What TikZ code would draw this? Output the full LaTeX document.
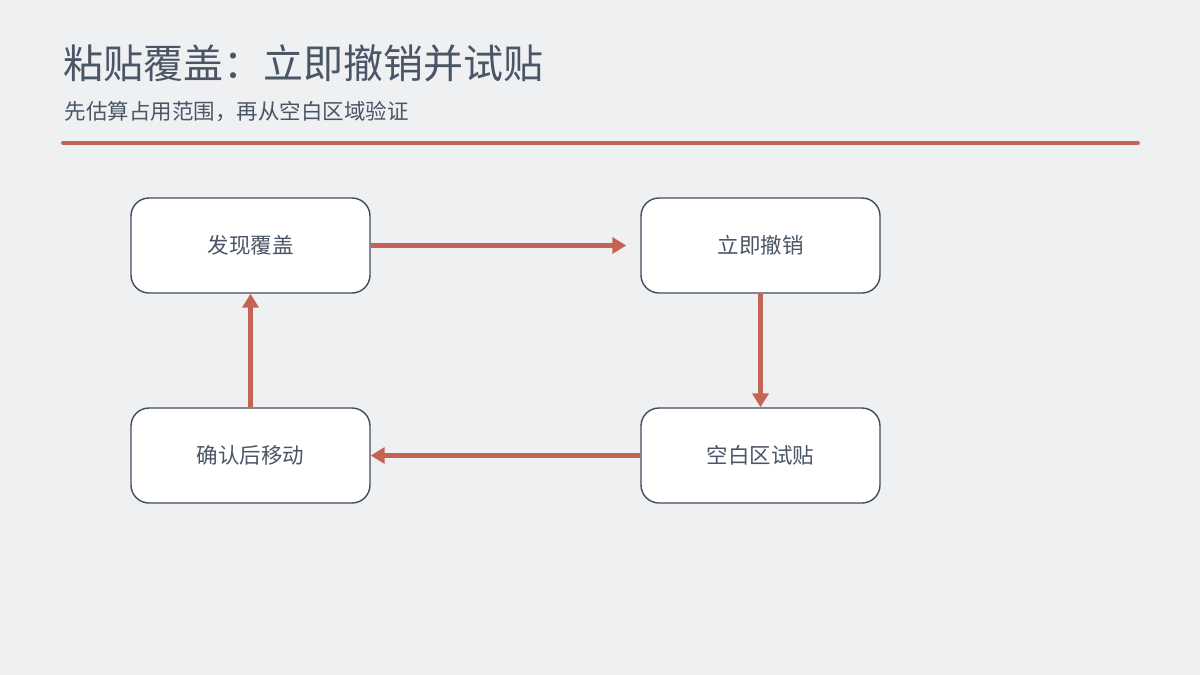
\documentclass[tikz,border=0pt]{standalone}
\usepackage{fontspec}
\setmainfont{Noto Sans CJK SC}
\usetikzlibrary{arrows.meta}
\definecolor{bg}{HTML}{EFF0F2}
\definecolor{ink}{HTML}{4A5566}
\definecolor{acc}{HTML}{C46455}
\begin{document}
\begin{tikzpicture}[x=1pt,y=-1pt,
  box/.style={draw=ink!90!black,line width=1.4pt,rounded corners=18pt,fill=white,minimum width=239pt,minimum height=95pt,text=ink,font=\fontsize{21.5}{26}\selectfont},
  arr/.style={draw=acc,line width=5pt,-{Triangle[length=14pt,width=16pt]}}]
\fill[bg] (0,0) rectangle (1200,675);
\node[anchor=west,text=ink,font=\fontsize{40}{48}\selectfont] (t) at (60,63) {粘贴覆盖：立即撤销并试贴};
\node[anchor=west,text=ink,font=\fontsize{21.5}{26}\selectfont] (s) at (61,112) {先估算占用范围，再从空白区域验证};
\coordinate (l1) at (63,143); \coordinate (l2) at (1138,143);
\draw[acc,line width=3.8pt,line cap=round] (l1) -- (l2);
\node[box] (a) at (250.5,245.5) {发现覆盖};
\node[box] (b) at (760.5,245.5) {立即撤销};
\node[box] (c) at (760.5,455.5) {空白区试贴};
\node[box] (d) at (250.5,455.5) {确认后移动};
\draw[arr] (a.east) -- ([xshift=-14pt]b.west);
\draw[arr] (b.south) -- (c.north);
\draw[arr] (c.west) -- (d.east);
\draw[arr] (d.north) -- (a.south);
\end{tikzpicture}
\end{document}
